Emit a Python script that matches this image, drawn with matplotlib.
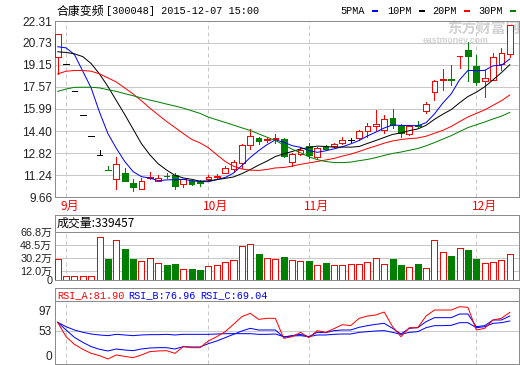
import matplotlib
matplotlib.use('Agg')
import matplotlib.pyplot as plt
from matplotlib.patches import Rectangle

W, H = 520, 365
PX = 0.72  # points per pixel at dpi 100
RED, GREEN, BLUE = '#ff0000', '#008000', '#0000ff'
GRID, FRAME = '#c8c8c8', '#8c8c8c'
CJK = ['Noto Sans CJK SC', 'DejaVu Sans']
MONO = ['Liberation Mono', 'Noto Sans CJK SC']
SANS = ['Liberation Sans', 'Noto Sans CJK SC']

# ---------------- data ----------------
opens = [19.70, 19.22, 17.30, 15.57, 14.01, 12.65, 11.62, 10.96, 11.42, 10.65,
         10.20, 11.05, 10.80, 11.19, 11.22, 10.56, 10.80, 10.71, 10.98, 11.12,
         11.42, 11.64, 12.11, 13.42, 13.88, 13.74, 13.84, 13.86, 12.18, 12.78,
         13.30, 12.50, 13.30, 13.30, 13.57, 13.75, 13.89, 14.42, 14.73, 14.49,
         15.33, 14.78, 14.20, 14.86, 15.86, 17.18, 18.06, 18.12, 19.80, 20.26,
         19.11, 18.02, 18.10, 19.23, 19.95]
highs = [21.35, 19.22, 17.30, 15.57, 14.01, 13.02, 11.88, 12.50, 11.71, 10.94,
         11.03, 11.46, 11.27, 11.38, 11.42, 10.98, 10.86, 10.86, 11.22, 11.30,
         11.90, 12.31, 13.50, 14.58, 13.97, 13.95, 14.22, 13.90, 12.85, 13.25,
         13.57, 13.28, 13.40, 13.57, 13.97, 13.92, 14.45, 14.97, 15.88, 15.57,
         15.98, 14.93, 14.80, 15.10, 16.49, 18.05, 18.87, 19.13, 19.83, 20.79,
         19.90, 18.82, 20.02, 20.38, 22.02]
lows = [18.50, 19.22, 17.30, 15.57, 14.01, 12.65, 11.57, 10.22, 10.84, 10.10,
        10.20, 10.95, 10.80, 10.99, 10.20, 10.38, 10.55, 10.48, 10.90, 11.05,
        11.42, 11.54, 11.75, 13.14, 13.50, 13.60, 13.57, 12.55, 11.87, 12.65,
        12.45, 12.48, 13.08, 13.22, 13.45, 13.58, 13.75, 13.96, 14.44, 14.29,
        14.61, 13.98, 14.15, 14.60, 15.69, 16.65, 17.37, 17.74, 18.90, 17.97,
        17.74, 16.85, 18.05, 18.82, 19.73]
closes = [21.35, 19.22, 17.30, 15.57, 14.01, 12.65, 11.57, 12.02, 10.84, 10.38,
          10.80, 11.12, 10.99, 11.15, 10.45, 10.94, 10.62, 10.69, 11.10, 11.20,
          11.71, 12.19, 13.38, 14.02, 13.67, 13.86, 13.88, 12.58, 12.78, 13.07,
          12.71, 13.20, 13.14, 13.50, 13.79, 13.75, 14.42, 14.78, 14.88, 15.26,
          14.85, 14.25, 14.78, 14.78, 16.34, 18.02, 18.12, 18.08, 19.82, 19.78,
          17.90, 18.22, 19.73, 20.02, 22.02]
ma5 = [20.46, 20.38, 19.90, 18.70, 17.49, 15.75, 14.22, 13.16, 12.22, 11.49,
       11.12, 11.03, 10.83, 10.89, 10.90, 10.93, 10.83, 10.77, 10.76, 10.91,
       11.06, 11.38, 11.92, 12.50, 12.99, 13.42, 13.76, 13.60, 13.35, 13.23,
       13.00, 12.87, 12.98, 13.12, 13.27, 13.48, 13.72, 14.05, 14.32, 14.62,
       14.84, 14.80, 14.80, 14.78, 15.00, 15.63, 16.41, 17.07, 18.08, 18.76,
       18.74, 18.76, 19.09, 19.13, 19.58]
ma10 = [20.10, 20.05, 19.95, 19.75, 19.25, 18.50, 17.60, 16.60, 15.60, 14.55,
        13.50, 12.70, 12.05, 11.60, 11.22, 11.03, 10.93, 10.80, 10.82, 10.91,
        11.00, 11.10, 11.34, 11.63, 11.95, 12.24, 12.57, 12.76, 12.93, 13.11,
        13.21, 13.32, 13.29, 13.24, 13.25, 13.24, 13.29, 13.51, 13.72, 13.94,
        14.16, 14.26, 14.43, 14.55, 14.81, 15.24, 15.61, 15.94, 16.43, 16.88,
        17.19, 17.58, 18.08, 18.60, 19.17]
ma20 = [18.51, 18.70, 18.75, 18.75, 18.70, 18.51, 18.22, 17.93, 17.50, 17.07,
        16.58, 16.05, 15.57, 15.09, 14.66, 14.22, 13.80, 13.55, 13.20, 12.70,
        12.22, 11.87, 11.67, 11.59, 11.57, 11.64, 11.75, 11.78, 11.88, 12.01,
        12.11, 12.21, 12.32, 12.43, 12.60, 12.74, 12.93, 13.14, 13.33, 13.53,
        13.69, 13.79, 13.86, 13.90, 14.03, 14.24, 14.45, 14.73, 15.08, 15.41,
        15.67, 15.92, 16.25, 16.58, 16.99]
ma30 = [17.25, 17.42, 17.54, 17.55, 17.55, 17.50, 17.37, 17.25, 17.09, 16.94,
        16.78, 16.63, 16.49, 16.34, 16.20, 16.05, 15.86, 15.67, 15.40, 15.21,
        15.02, 14.83, 14.63, 14.44, 14.20, 13.96, 13.72, 13.41, 13.10, 12.84,
        12.55, 12.35, 12.21, 12.14, 12.13, 12.17, 12.27, 12.36, 12.49, 12.65,
        12.79, 12.89, 13.02, 13.14, 13.34, 13.57, 13.82, 14.07, 14.36, 14.65,
        14.85, 15.05, 15.27, 15.47, 15.74]
volumes = [29.9, 5.7, 5.7, 5.7, 5.7, 59.7, 28.9, 55.4, 43.1, 28.9,
           27.0, 31.3, 24.2, 20.4, 21.8, 15.6, 14.7, 13.3, 19.9, 21.3,
           25.6, 28.4, 47.9, 49.8, 36.0, 31.3, 28.9, 31.8, 28.4, 27.0,
           26.1, 21.3, 23.2, 21.3, 21.3, 22.7, 22.7, 25.6, 31.3, 22.7,
           28.9, 20.4, 18.5, 21.8, 17.1, 55.4, 38.4, 33.2, 44.1, 41.7,
           28.9, 24.2, 25.6, 28.4, 35.5]
rsi_a = [71.1, 40.7, 24.5, 13.9, 5.4, 0.5, -6.6, 1.9, -1.0, -3.8,
         1.9, 9.0, 10.4, 11.1, 5.4, 19.6, 17.4, 17.4, 31.6, 40.7,
         51.3, 66.9, 83.1, 90.2, 77.4, 79.6, 79.6, 37.2, 40.7, 49.9,
         38.6, 53.5, 49.9, 57.7, 66.2, 64.1, 79.6, 84.5, 86.7, 93.0,
         61.9, 40.7, 59.8, 59.8, 84.5, 97.2, 97.2, 97.2, 104.3, 102.9,
         54.9, 58.4, 76.1, 79.6, 92.3]
rsi_b = [71.1, 54.9, 39.3, 28.7, 19.6, 13.9, 10.4, 14.6, 12.5, 11.1,
         14.6, 16.7, 17.4, 17.4, 14.6, 19.6, 18.9, 18.9, 25.9, 31.6,
         38.6, 45.7, 52.8, 58.4, 54.9, 54.9, 54.9, 39.3, 42.9, 45.7,
         40.7, 49.9, 49.2, 53.5, 54.9, 54.9, 60.5, 64.1, 66.9, 69.0,
         58.4, 46.4, 58.4, 59.8, 72.5, 81.0, 81.0, 81.0, 88.8, 88.8,
         61.9, 64.1, 76.1, 76.1, 84.5]
rsi_c = [71.1, 61.9, 54.9, 50.0, 46.4, 44.3, 42.9, 45.7, 44.3, 42.9,
         44.3, 45.0, 45.0, 45.7, 44.3, 45.7, 45.7, 45.7, 45.7, 46.4,
         47.1, 47.1, 47.1, 47.1, 45.7, 45.7, 46.4, 40.7, 42.2, 42.9,
         40.7, 44.3, 44.3, 45.7, 46.4, 46.4, 49.9, 51.3, 52.8, 53.5,
         49.9, 45.7, 49.9, 51.3, 59.8, 64.1, 64.1, 64.8, 70.4, 70.4,
         59.8, 61.9, 69.0, 70.4, 73.9]

month_idx = [1, 18, 30, 50]
month_labels = ['9月', '10月', '11月', '12月']
price_ticks = [9.66, 11.24, 12.82, 14.40, 15.99, 17.57, 19.15, 20.73, 22.31]
vol_ticks = [0, 12.0, 30.2, 48.5, 66.8]
vol_labels = ['0', '12.0万', '30.2万', '48.5万', '66.8万']
rsi_ticks = [0, 53, 97]
title_name = '合康变频'
title_rest = '[300048] 2015-12-07 15:00'
volume_title = '成交量:339457'
rsi_titles = ['RSI_A:81.90', 'RSI_B:76.96', 'RSI_C:69.04']
legend_names = ['5PMA', '10PM', '20PM', '30PM']

# ---------------- layout helpers ----------------
fig = plt.figure(figsize=(W / 100, H / 100), dpi=100)


def box(l, t, r, b):
    return [l / W, 1 - b / H, (r - l) / W, (b - t) / H]


def ftext(x, y, s, **kw):
    fig.text(x / W, 1 - y / H, s, **kw)


n = len(closes)
xs = list(range(n))
XLIM = (-0.32, 55.1)


def style_frame(ax):
    for sp in ax.spines.values():
        sp.set_color(FRAME)
        sp.set_linewidth(PX)
    ax.set_xticks([])
    ax.tick_params(axis='y', length=0, pad=2, labelsize=8.6, colors='#222222')
    ax.set_xlim(*XLIM)


# ---------------- price panel ----------------
ax = fig.add_axes(box(55, 21, 519, 197))
style_frame(ax)
ax.set_ylim(9.66, 22.31)
ax.set_yticks(price_ticks)
ax.set_yticklabels(['%.2f' % v for v in price_ticks], family=SANS)
for t in price_ticks[1:-1]:
    ax.axhline(t, color=GRID, lw=PX, zorder=0.5)
for m in month_idx:
    ax.axvline(m, color=GRID, lw=PX, ls=(0, (4, 3)), zorder=0.5)

bw = 0.68
for i in range(n):
    o, h, l, c = opens[i], highs[i], lows[i], closes[i]
    if c > o:
        col, fill = RED, 'white'
    elif c < o:
        col, fill = GREEN, GREEN
    else:
        col, fill = 'black', 'black'
    if h > l:
        ax.vlines(i, l, h, color=col, lw=PX, zorder=3, antialiased=False)
    if c != o:
        ax.add_patch(Rectangle((i - bw / 2, min(o, c)), bw, abs(c - o),
                               facecolor=fill, edgecolor=col, lw=PX,
                               zorder=3.5, antialiased=False))
    else:
        ax.hlines(c, i - bw / 2, i + bw / 2, color=col, lw=PX, zorder=3.5,
                  antialiased=False)

for vals, col in [(ma5, BLUE), (ma10, 'black'), (ma20, RED), (ma30, GREEN)]:
    ax.plot(xs, vals, color=col, lw=PX, zorder=4)

# watermark
ax.text(447 / W, 1 - 29 / H, '东方财富网', transform=fig.transFigure,
        fontsize=10.5, fontweight='bold', color='#d2d2d2', family=CJK,
        va='center', ha='left', zorder=1)
ax.text(423 / W, 1 - 40.5 / H, 'eastmoney.com', transform=fig.transFigure,
        fontsize=6.3, fontweight='bold', color='#d2d2d2', family=SANS,
        va='center', ha='left', zorder=1)

# title and legend
ftext(57, 11, title_name, family=CJK, fontsize=8.6, va='center', ha='left')
ftext(106, 11, title_rest, family=MONO, fontsize=7.3, va='center', ha='left')
leg_x = [340, 387, 432, 478]
leg_col = [BLUE, 'black', RED, GREEN]
for name, lx, lc in zip(legend_names, leg_x, leg_col):
    ftext(lx, 11, name, family=MONO, fontsize=7.3, va='center', ha='left')
    fig.patches.append(Rectangle(((lx + len(name) * 6 + 8) / W, 1 - 12 / H),
                                 6 / W, 2 / H, transform=fig.transFigure,
                                 facecolor=lc, edgecolor='none'))

# month labels
for m, lab in zip(month_idx, month_labels):
    px = 57.7 + 8.41 * m - 6
    ftext(px, 206, lab, family=CJK, fontsize=8.6, color=RED, va='center',
          ha='left')

# ---------------- volume panel ----------------
axv = fig.add_axes(box(55, 215, 519, 280))
style_frame(axv)
axv.set_ylim(0, 66.8 + 17 * 66.8 / 48)
axv.set_yticks(vol_ticks)
axv.set_yticklabels(vol_labels, family=SANS, fontsize=7.8)
for t in vol_ticks[1:-1]:
    axv.axhline(t, color=GRID, lw=PX, zorder=0.5)
axv.axhline(66.8, color=FRAME, lw=PX, zorder=2)
axv.vlines(month_idx, 0, 66.8, color=GRID, lw=PX, ls=(0, (4, 3)), zorder=0.5)
face = [GREEN if c < o else 'white' for o, c in zip(opens, closes)]
edge = [GREEN if c < o else RED for o, c in zip(opens, closes)]
axv.bar(xs, volumes, width=0.72, color=face, edgecolor=edge, lw=PX,
        zorder=3, antialiased=False)
ftext(57, 223.5, volume_title, family=CJK, fontsize=8.6, va='center',
      ha='left')

# ---------------- RSI panel ----------------
axr = fig.add_axes(box(55, 288, 519, 364))
style_frame(axr)
r_lo, r_hi, r_sep = -17.2, 143.9, 116.3
axr.set_ylim(r_lo, r_hi)
axr.set_yticks(rsi_ticks)
axr.set_yticklabels([str(t) for t in rsi_ticks], family=SANS)
axr.axhline(53, color=GRID, lw=PX, zorder=0.5)
axr.axhline(r_sep, color=FRAME, lw=PX, zorder=2)
axr.vlines(month_idx, r_lo, r_sep, color=GRID, lw=PX, ls=(0, (4, 3)),
           zorder=0.5)
for vals, col in [(rsi_c, BLUE), (rsi_b, BLUE), (rsi_a, RED)]:
    axr.plot(xs, vals, color=col, lw=PX, zorder=3)
for s, tx, tc in zip(rsi_titles, [57, 128, 200], [RED, BLUE, BLUE]):
    ftext(tx, 295, s, family=MONO, fontsize=7.3, color=tc, va='center',
          ha='left')

fig.savefig('out.png', dpi=100)
